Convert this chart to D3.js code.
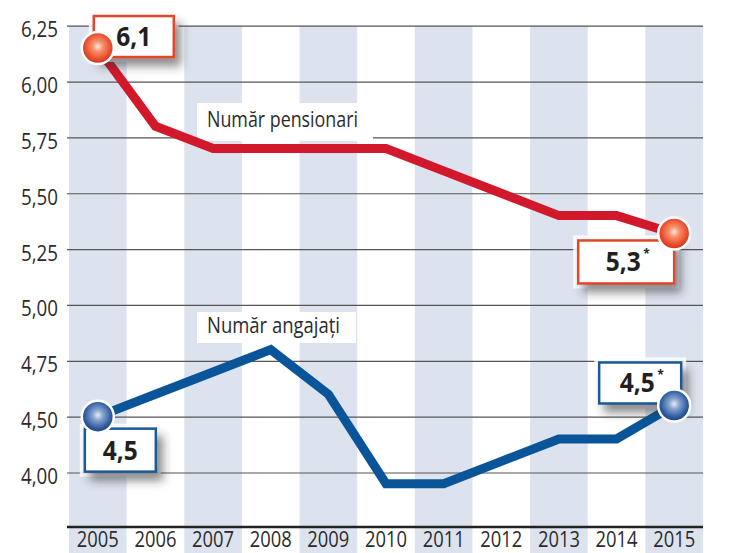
<!DOCTYPE html>
<html>
<head>
<meta charset="utf-8">
<script src="https://cdn.jsdelivr.net/npm/d3@7"></script>
<style>
  body { margin: 0; background: #fff; }
  svg text { font-family: "Open Sans", "Liberation Sans", sans-serif; }
</style>
</head>
<body>
<svg id="chart"></svg>
<script>
// data (milioane)
var years = ["2005","2006","2007","2008","2009","2010","2011","2012","2013","2014","2015"];
var pensionari = [6.15, 5.80, 5.70, 5.70, 5.70, 5.70, 5.60, 5.50, 5.40, 5.40, 5.32];
var angajati   = [4.50, 4.60, 4.70, 4.80, 4.60, 4.20, 4.20, 4.30, 4.40, 4.40, 4.55];
// the axis is broken at the bottom: the last line is labelled 4,00
var tickValues = [6.25, 6.00, 5.75, 5.50, 5.25, 5.00, 4.75, 4.50, 4.25];
var tickLabels = ["6,25","6,00","5,75","5,50","5,25","5,00","4,75","4,50","4,00"];
var seriesNames = ["Număr pensionari", "Număr angajați"];
var valueLabels = [["6,1", "5,3"], ["4,5", "4,5"]];

var W = 737, H = 553;
var plotLeft = 69, plotRight = 703, plotTop = 25.7, axisY = 527;

var svg = d3.select("#chart").attr("width", W).attr("height", H);

var x = d3.scaleBand().domain(years).range([plotLeft, plotRight]).padding(0);
var y = d3.scaleLinear().domain([4.25, 6.25]).range([472.5, plotTop]);
var cx = function(d) { return x(d) + x.bandwidth() / 2; };

// defs: shadow + ball gradients
var defs = svg.append("defs");
var f = defs.append("filter").attr("id", "shadow")
    .attr("x", "-30%").attr("y", "-30%").attr("width", "170%").attr("height", "190%");
f.append("feDropShadow").attr("dx", 6).attr("dy", 8).attr("stdDeviation", 5)
    .attr("flood-color", "#333").attr("flood-opacity", 0.55);

function ball(id, stops) {
  var g = defs.append("radialGradient").attr("id", id)
      .attr("cx", "50%").attr("cy", "45%").attr("r", "55%");
  stops.forEach(function(s) {
    g.append("stop").attr("offset", s[0]).attr("stop-color", s[1]);
  });
}
ball("ballRed", [["0%", "#fde6da"], ["30%", "#f7906a"], ["75%", "#e84a2a"], ["100%", "#c9301c"]]);
ball("ballBlue", [["0%", "#e4ebf6"], ["30%", "#86a3cf"], ["75%", "#2d5c9f"], ["100%", "#1a3b77"]]);

// shaded columns
svg.append("g").selectAll("rect")
    .data(years.filter(function(d, i) { return i % 2 === 0; }))
  .enter().append("rect")
    .attr("x", function(d) { return x(d); })
    .attr("y", plotTop)
    .attr("width", x.bandwidth())
    .attr("height", H - plotTop)
    .attr("fill", "#dde3ee");

// grid + y labels
var yAxis = svg.append("g")
    .attr("transform", "translate(67,0)")
    .call(d3.axisLeft(y)
      .tickValues(tickValues)
      .tickSize(-(plotRight - 67))
      .tickPadding(9)
      .tickFormat(function(d, i) { return tickLabels[i]; }));
yAxis.select(".domain").remove();
yAxis.selectAll("line").attr("stroke", "#555").attr("stroke-width", 1.2);
yAxis.selectAll("text")
    .attr("dy", "0.5em")
    .attr("fill", "#2b2b2b")
    .attr("textLength", 37).attr("lengthAdjust", "spacingAndGlyphs")
    .style("font-size", "22px");

// x axis
var xAxis = svg.append("g")
    .attr("transform", "translate(0," + axisY + ")")
    .call(d3.axisBottom(x).tickSize(0).tickPadding(5));
xAxis.select(".domain").attr("stroke", "#222").attr("stroke-width", 2.5)
    .attr("d", "M67,0H" + plotRight);
xAxis.selectAll("text").attr("fill", "#2b2b2b")
    .attr("textLength", 42).attr("lengthAdjust", "spacingAndGlyphs")
    .style("font-size", "21px");

// series name labels on white backgrounds
var nameBoxes = [
  {x: 197, y: 103, w: 176, h: 38, tx: 207, ty: 127, len: 151},
  {x: 197, y: 312, w: 159, h: 31, tx: 207, ty: 333, len: 133}
];
nameBoxes.forEach(function(b, i) {
  svg.append("rect").attr("x", b.x).attr("y", b.y).attr("width", b.w).attr("height", b.h)
      .attr("fill", "#fff");
  svg.append("text").attr("x", b.tx).attr("y", b.ty)
      .attr("textLength", b.len).attr("lengthAdjust", "spacingAndGlyphs")
      .attr("fill", "#2b2b2b").style("font-size", "21px")
      .text(seriesNames[i]);
});

// lines
var line = d3.line()
    .x(function(d, i) { return cx(years[i]); })
    .y(function(d) { return y(d); });

var series = [
  {values: pensionari, color: "#d2192b", ball: "ballRed", border: "#e2442c"},
  {values: angajati, color: "#0a5599", ball: "ballBlue", border: "#1b5896"}
];

series.forEach(function(s) {
  svg.append("path").datum(s.values)
      .attr("fill", "none")
      .attr("stroke", s.color)
      .attr("stroke-width", 9)
      .attr("stroke-linejoin", "miter")
      .attr("d", line);
});

// value boxes: offsets of each box from its end point
var boxes = [
  {s: 0, i: 0,  dx: -4,  dy: -32, w: 80, h: 41, star: false},
  {s: 0, i: 10, dx: -96, dy: 7,   w: 96, h: 43, star: true},
  {s: 1, i: 0,  dx: -13, dy: 12,  w: 71, h: 43, star: false},
  {s: 1, i: 10, dx: -75, dy: -43, w: 82, h: 41, star: true}
];

boxes.forEach(function(b) {
  var s = series[b.s];
  var px = cx(years[b.i]), py = y(s.values[b.i]);
  var g = svg.append("g").attr("transform", "translate(" + (px + b.dx) + "," + (py + b.dy) + ")");
  g.append("rect").attr("x", -5).attr("y", -5).attr("width", b.w + 10).attr("height", b.h + 10)
      .attr("fill", "#fff").attr("opacity", 0.85);
  g.append("rect").attr("width", b.w).attr("height", b.h)
      .attr("fill", "#fff")
      .attr("stroke", s.border).attr("stroke-width", 2.5)
      .attr("filter", "url(#shadow)");
  var t = g.append("text")
      .attr("x", b.w / 2 - (b.star ? 3 : 0))
      .attr("y", b.h / 2 + 9.5)
      .attr("text-anchor", "middle")
      .attr("fill", "#231f20")
      .style("font-size", "27px")
      .style("font-weight", "bold")
      .text(valueLabels[b.s][b.i === 0 ? 0 : 1]);
  t.attr("textLength", 35).attr("lengthAdjust", "spacingAndGlyphs");
  if (b.star) {
    g.append("text")
        .attr("x", b.w / 2 + 17).attr("y", b.h / 2 - 4)
        .attr("fill", "#231f20")
        .style("font-size", "12px").style("font-weight", "bold")
        .text("*");
  }
});

// end balls
series.forEach(function(s) {
  [0, years.length - 1].forEach(function(i) {
    svg.append("circle")
        .attr("cx", cx(years[i]))
        .attr("cy", y(s.values[i]))
        .attr("r", 16)
        .attr("fill", "url(#" + s.ball + ")")
        .attr("stroke", "#fff")
        .attr("stroke-width", 2.5);
  });
});
</script>
</body>
</html>
